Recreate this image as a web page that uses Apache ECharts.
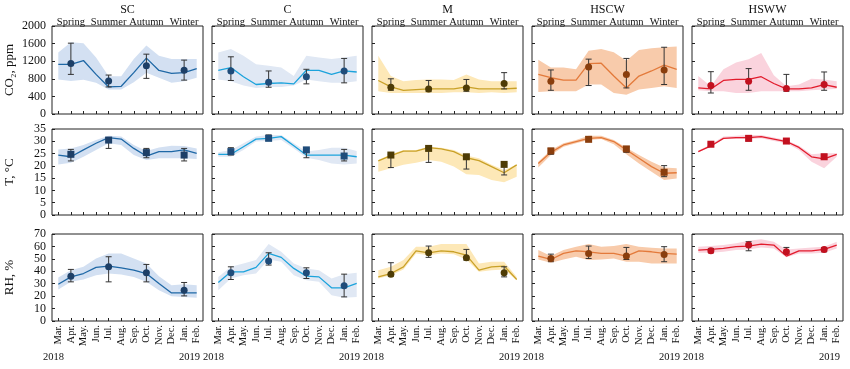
<!DOCTYPE html>
<html>
<head>
<meta charset="utf-8">
<script src="https://cdn.jsdelivr.net/npm/echarts@6/dist/echarts.min.js"></script>
<style>
html,body{margin:0;padding:0;background:#fff;}
#chart{width:850px;height:369px;}
</style>
</head>
<body>
<div id="chart"></div>
<script>
// ---------- categories / labels ----------
const months = ['Mar.','Apr.','May.','Jun.','Jul.','Aug.','Sep.','Oct.','Nov.','Dec.','Jan.','Feb.'];
const seasons = ['Spring','Summer','Autumn','Winter'];
const seasonIdx = [1, 4, 7, 10];
const sites = ['SC','C','M','HSCW','HSWW'];
const variables = ['CO2','T','RH'];
const varLabels = ['CO\u2082, ppm','T, \u00B0C','RH, %'];
const yMaxes = [2000, 35, 70];
const yIntervals = [400, 5, 10];
const yearStart = '2018', yearEnd = '2019';

// ---------- CO2 (ppm) ----------
const SC_CO2_mean = [1130,1130,1215,900,615,630,940,1270,990,925,940,1030];
const SC_CO2_max  = [1400,1630,1610,1285,860,860,1250,1555,1325,1250,1250,1250];
const SC_CO2_min  = [785,750,780,710,555,555,720,940,825,710,745,825];
const SC_CO2_pt = [1150,750,1095,995], SC_CO2_ptLo = [900,615,810,770], SC_CO2_ptHi = [1610,885,1360,1225];

const C_CO2_mean = [993,1055,847,670,693,708,685,993,993,900,978,955];
const C_CO2_max  = [1400,1480,1325,1130,1095,1055,862,1325,1285,1250,1285,1325];
const C_CO2_min  = [785,745,647,593,615,615,647,785,745,710,710,745];
const C_CO2_pt = [978,724,847,978], C_CO2_ptLo = [762,608,685,708], C_CO2_ptHi = [1300,978,1016,1263];

const M_CO2_mean = [762,616,539,554,570,570,570,616,570,570,570,585];
const M_CO2_max  = [1325,862,747,770,785,785,770,900,785,747,747,747];
const M_CO2_min  = [516,477,477,477,477,477,493,493,477,493,477,493];
const M_CO2_pt = [608,570,593,693], M_CO2_ptLo = [539,508,516,570], M_CO2_ptHi = [800,762,785,940];

const HSCW_CO2_mean = [900,824,770,770,1147,1155,862,593,862,978,1109,1016];
const HSCW_CO2_max  = [1232,1055,1055,1016,1440,1478,1401,1209,1455,1494,1517,1532];
const HSCW_CO2_min  = [500,516,516,516,670,670,477,439,554,593,631,593];
const HSCW_CO2_pt = [747,1070,900,1001], HSCW_CO2_ptLo = [539,647,593,670], HSCW_CO2_ptHi = [1001,1247,1263,1517];

const HSWW_CO2_mean = [593,570,762,785,785,847,693,570,570,593,670,608];
const HSWW_CO2_max  = [862,631,1016,1170,1247,1386,878,631,670,801,785,747];
const HSWW_CO2_min  = [539,516,516,477,477,516,516,516,516,539,554,570];
const HSWW_CO2_pt = [647,747,578,670], HSWW_CO2_ptLo = [477,539,516,539], HSWW_CO2_ptHi = [962,1032,900,955];

// ---------- T (°C) ----------
const SC_T_mean = [24.4,23.7,26.5,29.2,31.5,30.9,27.1,24.0,25.8,25.8,26.5,25.1];
const SC_T_max  = [26.7,27.1,28.5,30.5,32.3,31.9,28.5,26.0,27.5,28.2,28.1,27.1];
const SC_T_min  = [20.6,21.3,23.7,26.5,29.2,28.5,24.4,22.4,23.1,23.1,23.1,22.8];
const SC_T_pt = [24.7,30.5,25.4,24.4], SC_T_ptLo = [22.0,27.1,23.3,22.0], SC_T_ptHi = [26.7,31.5,27.1,27.1];

const C_T_mean = [24.7,24.7,27.8,30.9,31.2,31.9,28.2,24.4,24.4,24.4,24.4,23.7];
const C_T_max  = [25.5,26.5,29.2,31.9,32.6,32.6,29.2,25.8,26.5,27.4,27.4,26.0];
const C_T_min  = [23.7,23.7,26.5,29.9,30.1,30.5,27.1,23.3,22.4,21.0,20.6,21.0];
const C_T_pt = [25.8,31.2,26.5,24.0], C_T_ptLo = [24.4,30.4,23.3,22.0], C_T_ptHi = [27.4,32.6,27.1,26.7];

const M_T_mean = [22.0,24.2,26.0,26.0,27.4,26.9,25.8,23.3,22.1,19.7,17.2,20.4];
const M_T_max  = [22.4,24.7,26.5,26.5,27.8,27.4,26.5,24.2,23.1,20.4,18.3,20.6];
const M_T_min  = [17.6,19.0,20.4,21.3,22.4,21.7,19.7,16.6,16.3,14.2,13.3,15.6];
const M_T_pt = [24.4,27.1,23.7,20.6], M_T_ptLo = [19.3,21.4,18.7,16.3], M_T_ptHi = [24.7,27.4,24.2,20.9];

const HSCW_T_mean = [21.0,25.5,28.5,29.9,31.2,31.5,29.9,26.5,23.1,19.7,17.0,17.2];
const HSCW_T_max  = [21.7,26.5,29.2,30.5,32.3,32.3,30.5,27.4,24.4,21.7,19.3,19.0];
const HSCW_T_min  = [19.3,24.4,27.8,29.2,30.5,30.9,28.8,24.7,21.0,17.6,14.2,14.9];
const HSCW_T_pt = [26.1,30.8,26.9,17.4], HSCW_T_ptLo = [24.7,30.1,25.5,15.6], HSCW_T_ptHi = [27.1,31.9,27.8,20.1];

const HSWW_T_mean = [25.8,28.1,31.2,31.5,31.5,31.9,30.9,29.9,27.5,23.7,22.8,24.7];
const HSWW_T_max  = [26.1,28.8,31.9,32.3,32.6,32.6,31.5,30.5,28.2,24.7,25.1,25.1];
const HSWW_T_min  = [25.5,27.8,30.9,30.9,30.9,31.2,30.1,29.2,26.5,21.7,19.0,23.7];
const HSWW_T_pt = [28.8,31.2,30.1,23.7], HSWW_T_ptLo = [28.1,30.1,29.6,22.7], HSWW_T_ptHi = [29.2,32.2,30.5,24.7];

// ---------- RH (%) ----------
const SC_RH_mean = [29.6,35.5,38.2,43.1,44.2,42.8,40.9,38.2,30.2,22.6,22.6,22.6];
const SC_RH_max  = [35.0,40.9,43.6,50.3,54.4,54.4,50.3,46.3,36.1,28.8,29.6,28.8];
const SC_RH_min  = [25.3,31.5,33.4,36.9,38.2,37.4,35.5,31.5,24.8,19.9,19.4,18.8];
const SC_RH_pt = [36.1,43.6,38.8,24.8], SC_RH_ptLo = [31.5,31.5,31.5,20.2], SC_RH_ptHi = [41.5,51.7,45.5,31.0];

const C_RH_mean = [31.0,39.6,39.6,43.1,54.4,51.2,42.3,36.1,35.5,26.7,26.7,30.2];
const C_RH_max  = [35.5,43.6,46.3,49.0,61.9,55.7,46.3,42.3,40.9,34.2,37.7,38.8];
const C_RH_min  = [24.8,34.2,36.9,38.2,49.5,47.7,36.9,32.8,31.5,20.7,18.8,19.4];
const C_RH_pt = [38.8,48.2,38.8,28.3], C_RH_ptLo = [33.4,45.0,34.2,19.4], C_RH_ptHi = [43.6,54.9,42.8,37.7];

const M_RH_mean = [35.5,38.2,43.6,56.5,54.9,56.5,55.7,53.0,40.9,43.6,44.2,33.4];
const M_RH_max  = [40.9,43.6,49.0,59.8,59.8,61.9,61.9,61.9,46.3,47.7,47.7,35.5];
const M_RH_min  = [34.2,36.9,41.5,54.4,53.0,54.4,53.8,49.5,39.6,40.9,41.5,32.8];
const M_RH_pt = [37.7,54.9,50.9,38.8], M_RH_ptLo = [36.1,51.2,49.0,35.5], M_RH_ptHi = [46.9,60.3,57.6,43.6];

const HSCW_RH_mean = [52.2,49.5,54.4,56.5,55.7,54.4,54.4,52.2,56.5,55.7,54.4,53.8];
const HSCW_RH_max  = [57.1,52.2,57.1,59.8,61.9,59.8,60.3,61.9,59.8,59.0,58.4,58.4];
const HSCW_RH_min  = [49.5,46.9,49.5,51.7,49.0,49.5,50.3,47.7,47.7,46.3,46.3,46.3];
const HSCW_RH_pt = [50.3,54.4,52.2,53.6], HSCW_RH_ptLo = [47.7,50.3,49.5,47.7], HSCW_RH_ptHi = [53.8,60.3,59.2,59.8];

const HSWW_RH_mean = [57.1,57.6,58.4,59.8,60.3,61.9,61.1,52.2,56.5,56.5,57.6,61.1];
const HSWW_RH_max  = [59.8,60.3,61.1,62.5,64.6,65.7,63.8,57.6,58.4,59.2,59.8,63.8];
const HSWW_RH_min  = [54.9,54.9,55.7,57.1,57.6,59.2,58.4,51.2,54.4,54.4,54.9,58.4];
const HSWW_RH_pt = [56.5,61.1,55.7,57.6], HSWW_RH_ptLo = [54.9,56.5,54.4,55.7], HSWW_RH_ptHi = [58.4,63.8,59.2,59.2];

// ---------- table built from the arrays above ----------
const TABLE = {
  SC:   {CO2:[SC_CO2_mean,SC_CO2_min,SC_CO2_max,SC_CO2_pt,SC_CO2_ptLo,SC_CO2_ptHi],
         T:[SC_T_mean,SC_T_min,SC_T_max,SC_T_pt,SC_T_ptLo,SC_T_ptHi],
         RH:[SC_RH_mean,SC_RH_min,SC_RH_max,SC_RH_pt,SC_RH_ptLo,SC_RH_ptHi]},
  C:    {CO2:[C_CO2_mean,C_CO2_min,C_CO2_max,C_CO2_pt,C_CO2_ptLo,C_CO2_ptHi],
         T:[C_T_mean,C_T_min,C_T_max,C_T_pt,C_T_ptLo,C_T_ptHi],
         RH:[C_RH_mean,C_RH_min,C_RH_max,C_RH_pt,C_RH_ptLo,C_RH_ptHi]},
  M:    {CO2:[M_CO2_mean,M_CO2_min,M_CO2_max,M_CO2_pt,M_CO2_ptLo,M_CO2_ptHi],
         T:[M_T_mean,M_T_min,M_T_max,M_T_pt,M_T_ptLo,M_T_ptHi],
         RH:[M_RH_mean,M_RH_min,M_RH_max,M_RH_pt,M_RH_ptLo,M_RH_ptHi]},
  HSCW: {CO2:[HSCW_CO2_mean,HSCW_CO2_min,HSCW_CO2_max,HSCW_CO2_pt,HSCW_CO2_ptLo,HSCW_CO2_ptHi],
         T:[HSCW_T_mean,HSCW_T_min,HSCW_T_max,HSCW_T_pt,HSCW_T_ptLo,HSCW_T_ptHi],
         RH:[HSCW_RH_mean,HSCW_RH_min,HSCW_RH_max,HSCW_RH_pt,HSCW_RH_ptLo,HSCW_RH_ptHi]},
  HSWW: {CO2:[HSWW_CO2_mean,HSWW_CO2_min,HSWW_CO2_max,HSWW_CO2_pt,HSWW_CO2_ptLo,HSWW_CO2_ptHi],
         T:[HSWW_T_mean,HSWW_T_min,HSWW_T_max,HSWW_T_pt,HSWW_T_ptLo,HSWW_T_ptHi],
         RH:[HSWW_RH_mean,HSWW_RH_min,HSWW_RH_max,HSWW_RH_pt,HSWW_RH_ptLo,HSWW_RH_ptHi]}
};

// ---------- styles ----------
const lineColors  = {SC:'#1f68a6', C:'#1ba3dc', M:'#c9a128', HSCW:'#e37a3b', HSWW:'#e21b2c'};
const pointColors = {SC:'#1d3f67', C:'#1f4c7a', M:'#4e3c06', HSCW:'#8a3e0d', HSWW:'#c2101f'};
const bandColors  = {SC:'#d3e0f2', C:'#e0e8f4', M:'#fde8b7', HSCW:'#f8cbab', HSWW:'#fad3dd'};
const pointSymbols = ['circle','rect','circle'];

const FONT = '"Liberation Serif","Times New Roman",serif';
const colLeft = [52, 212, 372, 532, 692];
const colW = 151;
const rowTop = [26, 129, 234];
const rowH = [88, 86, 87];

const grids = [], xAxes = [], yAxes = [], series = [], graphics = [];

for (let r = 0; r < 3; r++) {
  for (let c = 0; c < 5; c++) {
    const g = r * 5 + c;
    const site = sites[c];
    const v = variables[r];
    const [mean, mn, mx, pt, ptLo, ptHi] = TABLE[site][v];
    grids.push({left: colLeft[c], top: rowTop[r], width: colW, height: rowH[r],
      show: true, borderColor: '#222', borderWidth: 1, backgroundColor: 'transparent', containLabel: false});
    xAxes.push({
      type: 'category', gridIndex: g, data: months, boundaryGap: true,
      axisLine: {show: false},
      axisTick: {show: true, inside: true, alignWithLabel: true, length: 3, lineStyle: {color: '#222'}},
      axisLabel: {show: r === 2, rotate: 90, interval: 0, fontSize: 10.5, fontFamily: FONT, color: '#111', margin: 4},
      splitLine: {show: false}
    });
    yAxes.push({
      type: 'value', gridIndex: g, min: 0, max: yMaxes[r], interval: yIntervals[r],
      axisLine: {show: false},
      axisTick: {show: true, inside: true, length: 3, lineStyle: {color: '#222'}},
      axisLabel: {show: c === 0, fontSize: 12, lineHeight: 12, fontFamily: FONT, color: '#111', margin: 6,
        showMinLabel: true, showMaxLabel: true, hideOverlap: false,
        formatter: function (val) { return String(val); }},
      splitLine: {show: false},
      name: c === 0 ? varLabels[r] : '', nameLocation: 'middle', nameRotate: 90, nameGap: 36,
      nameTextStyle: {fontSize: 13, fontFamily: FONT, color: '#111'}
    });
    const xi = xAxes.length - 1, yi = yAxes.length - 1;
    const stackName = 'band' + g;
    series.push({type: 'line', xAxisIndex: xi, yAxisIndex: yi, stack: stackName, data: mn,
      symbol: 'none', lineStyle: {opacity: 0}, silent: true, z: 1});
    series.push({type: 'line', xAxisIndex: xi, yAxisIndex: yi, stack: stackName,
      data: mx.map((val, i) => val - mn[i]),
      symbol: 'none', lineStyle: {opacity: 0}, areaStyle: {color: bandColors[site], opacity: 1}, silent: true, z: 1});
    series.push({type: 'line', xAxisIndex: xi, yAxisIndex: yi, data: mean,
      symbol: 'none', lineStyle: {color: lineColors[site], width: 1.3}, z: 2});
    series.push({type: 'custom', xAxisIndex: xi, yAxisIndex: yi, z: 3,
      data: seasonIdx.map((idx, k) => [idx, ptLo[k], ptHi[k]]),
      renderItem: function (params, api) {
        const x = api.value(0);
        const a = api.coord([x, api.value(1)]);
        const b = api.coord([x, api.value(2)]);
        const w = 3;
        const st = {stroke: '#333', lineWidth: 1};
        return {type: 'group', children: [
          {type: 'line', shape: {x1: a[0], y1: a[1], x2: b[0], y2: b[1]}, style: st},
          {type: 'line', shape: {x1: a[0] - w, y1: a[1], x2: a[0] + w, y2: a[1]}, style: st},
          {type: 'line', shape: {x1: b[0] - w, y1: b[1], x2: b[0] + w, y2: b[1]}, style: st}
        ]};
      }
    });
    series.push({type: 'scatter', xAxisIndex: xi, yAxisIndex: yi, z: 4,
      data: seasonIdx.map((idx, k) => [idx, pt[k]]),
      symbol: pointSymbols[r], symbolSize: 7, itemStyle: {color: pointColors[site], opacity: 1}});

    if (r === 2) {
      graphics.push({type: 'text', x: colLeft[c] - 9, y: 357,
        style: {text: yearStart, font: '10.5px ' + FONT, fill: '#111', align: 'left', textAlign: 'left', verticalAlign: 'middle', textVerticalAlign: 'middle'}});
      graphics.push({type: 'text', x: colLeft[c] + colW - 3, y: 357,
        style: {text: yearEnd, font: '10.5px ' + FONT, fill: '#111', align: 'right', textAlign: 'right', verticalAlign: 'middle', textVerticalAlign: 'middle'}});
    }
  }
}

// season axes on the top row, and panel titles
for (let c = 0; c < 5; c++) {
  xAxes.push({
    type: 'category', gridIndex: c, data: months, boundaryGap: true, position: 'top',
    axisLine: {show: false}, axisTick: {show: false}, splitLine: {show: false},
    axisLabel: {show: true, interval: 0, fontSize: 10.5, fontFamily: FONT, color: '#111', margin: -2,
      formatter: function (val, idx) { const k = seasonIdx.indexOf(idx); return k >= 0 ? seasons[k] : ''; }}
  });
  graphics.push({type: 'text', x: colLeft[c] + colW / 2, y: 10,
    style: {text: sites[c], font: '12px ' + FONT, fill: '#111', align: 'center', textAlign: 'center', verticalAlign: 'middle', textVerticalAlign: 'middle'}});
}

const chart = echarts.init(document.getElementById('chart'), null, {renderer: 'canvas'});
chart.setOption({
  animation: false,
  backgroundColor: '#fff',
  grid: grids,
  xAxis: xAxes,
  yAxis: yAxes,
  series: series,
  graphic: graphics
});
</script>
</body>
</html>
